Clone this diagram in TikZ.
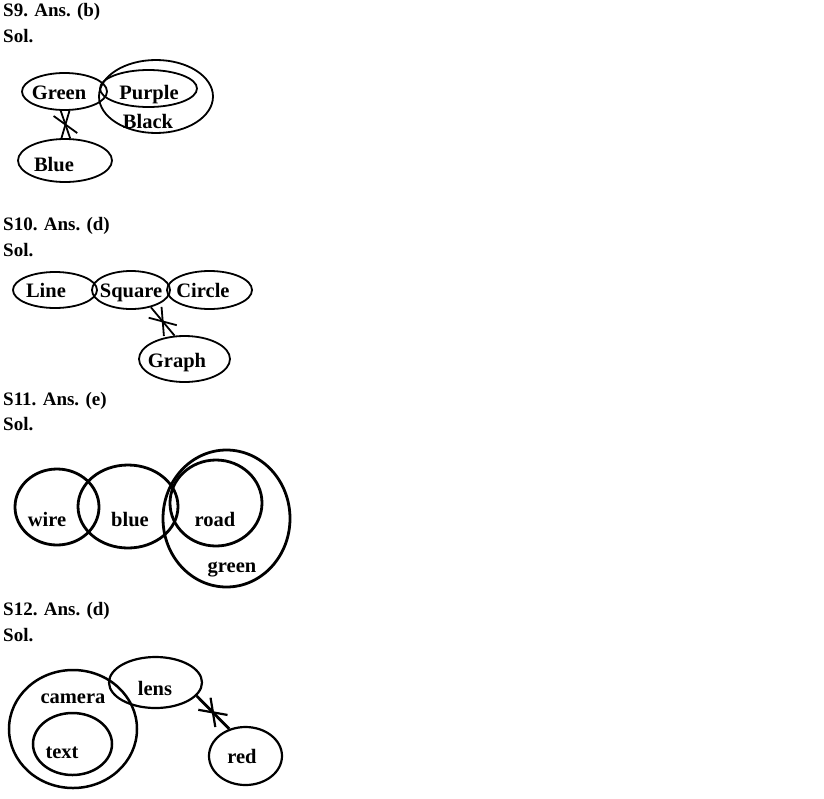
\documentclass[tikz,border=0pt]{standalone}
\usepackage{fontspec}
\setmainfont{Liberation Serif}
\usetikzlibrary{shapes.geometric,shapes.misc}
\tikzset{
oval/.style={ellipse,draw,line width=1.8pt,inner sep=0pt},
word/.style={font=\fontsize{20.5}{24}\selectfont\bfseries,inner sep=0pt,text height=14pt,text depth=4pt},
head/.style={font=\fontsize{19}{22}\selectfont\bfseries,anchor=west,inner sep=0pt},
xmark/.style={cross out,draw,line width=1.8pt,minimum width=22pt,minimum height=15pt,inner sep=0pt}
}
\begin{document}
\begin{tikzpicture}[x=1pt,y=-1pt]
\useasboundingbox (0,0) rectangle (824,798);
\node[head] (t9) at (3,12) {S9. Ans. (b)};
\node[head] (s9) at (3,36) {Sol.};
\node[oval,minimum width=85pt,minimum height=37pt] (green) at (64.5,91.5) {};
\node[oval,minimum width=97pt,minimum height=37pt] (purple) at (148.5,88.5) {};
\node[oval,minimum width=114pt,minimum height=73pt] (black) at (156,96.5) {};
\node[oval,minimum width=94pt,minimum height=43pt] (blue) at (65,160.5) {};
\node[word] (lgreen) at (59,94) {Green};
\node[word] (lpurple) at (149,94) {Purple};
\node[word] (lblack) at (148,123) {Black};
\node[word] (lblue) at (54,166) {Blue};
\draw[line width=1.8pt] (green.259) -- node[xmark,sloped] (x9) {} (blue.77);

\node[head] (t10) at (3,226) {S10. Ans. (d)};
\node[head] (s10) at (3,250) {Sol.};
\node[oval,minimum width=84pt,minimum height=36pt] (line) at (55,290) {};
\node[oval,minimum width=78pt,minimum height=38pt] (square) at (131,290) {};
\node[oval,minimum width=85pt,minimum height=38pt] (circle) at (209.5,290) {};
\node[oval,minimum width=91pt,minimum height=46pt] (graph) at (184.5,359) {};
\node[word] (lline) at (46,292) {Line};
\node[word] (lsquare) at (131,292) {Square};
\node[word] (lcircle) at (203,292) {Circle};
\node[word] (lgraph) at (177,362) {Graph};
\draw[line width=1.8pt] (square.-41) -- node[xmark,sloped] (x10) {} (graph.113);

\node[head] (t11) at (3,401) {S11. Ans. (e)};
\node[head] (s11) at (3,424) {Sol.};
\node[oval,line width=2.8pt,minimum width=84pt,minimum height=76pt] (wire) at (57,507) {};
\node[oval,line width=2.8pt,minimum width=100pt,minimum height=83pt] (bluec) at (128,506.5) {};
\node[oval,line width=2.8pt,minimum width=92pt,minimum height=86pt] (road) at (216,503) {};
\node[oval,line width=2.8pt,minimum width=127pt,minimum height=137pt] (greenc) at (226.5,518.5) {};
\node[word] (lwire) at (47,521) {wire};
\node[word] (lbluec) at (130,521) {blue};
\node[word] (lroad) at (215,521) {road};
\node[word] (lgreenc) at (232,567) {green};

\node[head] (t12) at (3,611) {S12. Ans. (d)};
\node[head] (s12) at (3,635) {Sol.};
\node[oval,line width=2.5pt,minimum width=128pt,minimum height=118pt] (camera) at (73,729) {};
\node[oval,line width=2.5pt,minimum width=79pt,minimum height=62pt] (text) at (72.5,744) {};
\node[oval,line width=2.2pt,minimum width=93pt,minimum height=51pt] (lens) at (155.5,682.5) {};
\node[oval,line width=2.2pt,minimum width=73pt,minimum height=58pt] (red) at (245.5,756) {};
\node[word] (lcamera) at (73,698) {camera};
\node[word] (ltext) at (62,753) {text};
\node[word] (llens) at (155,690) {lens};
\node[word] (lred) at (242,758) {red};
\draw[line width=2.8pt] (lens.-18) -- node[xmark,sloped,line width=2.2pt] (x12) {} (red.121);
\end{tikzpicture}
\end{document}
